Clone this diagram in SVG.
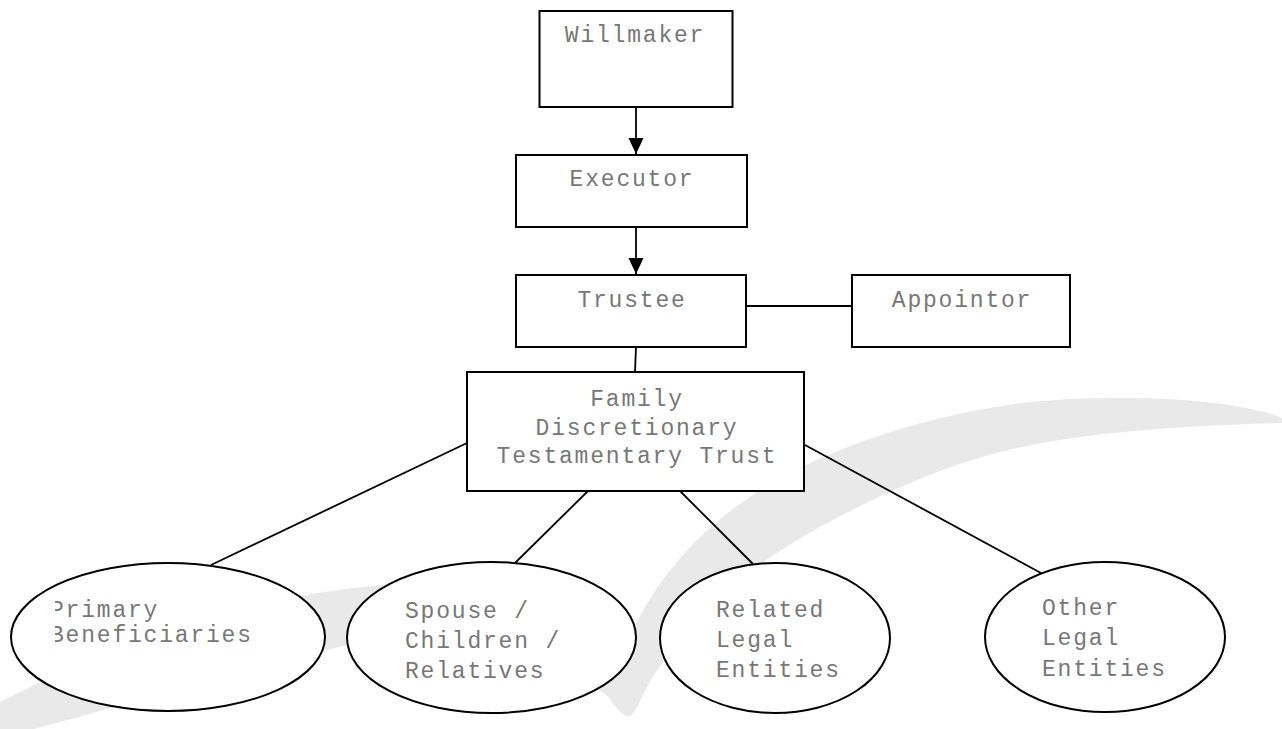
<svg xmlns="http://www.w3.org/2000/svg" width="1282" height="729" viewBox="0 0 1282 729">
  <style>
    .box { fill: #ffffff; stroke: #000000; stroke-width: 2; }
    .ell { fill: #ffffff; stroke: #000000; stroke-width: 2; }
    .con { fill: none; stroke: #000000; stroke-width: 1.8; }
    .lbl { font-family: "Liberation Mono", "DejaVu Sans Mono", monospace; font-size: 23px; letter-spacing: 1.8px; fill: #777777; }
    .mid { text-anchor: middle; }
  </style>
  <defs>
    <marker id="arrow" viewBox="0 0 16 16" refX="16" refY="8" markerWidth="16" markerHeight="16" markerUnits="userSpaceOnUse" orient="auto">
      <path d="M0,0.5 L16,8 L0,15.5 Z" fill="#000000"/>
    </marker>
    <clipPath id="clipPrimary">
      <rect x="55" y="590" width="260" height="70"/>
    </clipPath>
  </defs>
  <rect x="0" y="0" width="1282" height="729" fill="#ffffff"/>
  <g id="swoosh">
    <path fill="#e9e9ea" d="M0,702 Q200,600 383,585 C480,580 580,610 625,650 C635,620 670,550 750,497 C800,462 900,418 1030,402 C1130,392 1240,400 1282,418 L1282,423 C1180,426 1080,432 1000,452 C920,472 800,530 740,580 C700,615 665,655 648,685 C640,700 636,712 630,716 C624,719 615,706 607,695 C560,665 450,640 347,645 C250,668 100,712 0,738 Z"/>
  </g>
  <g id="connectors">
    <line class="con" x1="636" y1="107" x2="636" y2="154" marker-end="url(#arrow)"/>
    <line class="con" x1="636" y1="227" x2="636" y2="274" marker-end="url(#arrow)"/>
    <line class="con" x1="746" y1="306" x2="852" y2="306"/>
    <line class="con" x1="636" y1="347" x2="635" y2="372"/>
    <line class="con" x1="467" y1="443" x2="211" y2="565"/>
    <line class="con" x1="588" y1="491" x2="515" y2="563"/>
    <line class="con" x1="680" y1="491" x2="753" y2="564"/>
    <line class="con" x1="805" y1="445" x2="1041" y2="573"/>
  </g>
  <g id="willmaker">
    <rect class="box" x="539.5" y="11" width="193" height="96"/>
    <text class="lbl mid" x="635" y="42">Willmaker</text>
  </g>
  <g id="executor">
    <rect class="box" x="516" y="155" width="231" height="72"/>
    <text class="lbl mid" x="632" y="186">Executor</text>
  </g>
  <g id="trustee">
    <rect class="box" x="516" y="275" width="230" height="72"/>
    <text class="lbl mid" x="632" y="307">Trustee</text>
  </g>
  <g id="appointor">
    <rect class="box" x="852" y="275" width="218" height="72"/>
    <text class="lbl mid" x="962" y="307">Appointor</text>
  </g>
  <g id="family-trust">
    <rect class="box" x="467" y="372" width="337" height="119"/>
    <text class="lbl mid" x="637" y="406">Family</text>
    <text class="lbl mid" x="637" y="435">Discretionary</text>
    <text class="lbl mid" x="637" y="463">Testamentary Trust</text>
  </g>
  <g id="primary-beneficiaries">
    <ellipse class="ell" cx="168" cy="637" rx="157" ry="74"/>
    <g clip-path="url(#clipPrimary)">
      <text class="lbl" x="50" y="617">Primary</text>
      <text class="lbl" x="50" y="642">Beneficiaries</text>
    </g>
  </g>
  <g id="spouse-children-relatives">
    <ellipse class="ell" cx="491.5" cy="637.5" rx="144.5" ry="75.5"/>
    <text class="lbl" x="405" y="618">Spouse /</text>
    <text class="lbl" x="405" y="648">Children /</text>
    <text class="lbl" x="405" y="678">Relatives</text>
  </g>
  <g id="related-legal-entities">
    <ellipse class="ell" cx="775" cy="638" rx="115" ry="75"/>
    <text class="lbl" x="716" y="617">Related</text>
    <text class="lbl" x="716" y="647">Legal</text>
    <text class="lbl" x="716" y="677">Entities</text>
  </g>
  <g id="other-legal-entities">
    <ellipse class="ell" cx="1105" cy="637" rx="120" ry="75"/>
    <text class="lbl" x="1042" y="615">Other</text>
    <text class="lbl" x="1042" y="645">Legal</text>
    <text class="lbl" x="1042" y="676">Entities</text>
  </g>
</svg>
